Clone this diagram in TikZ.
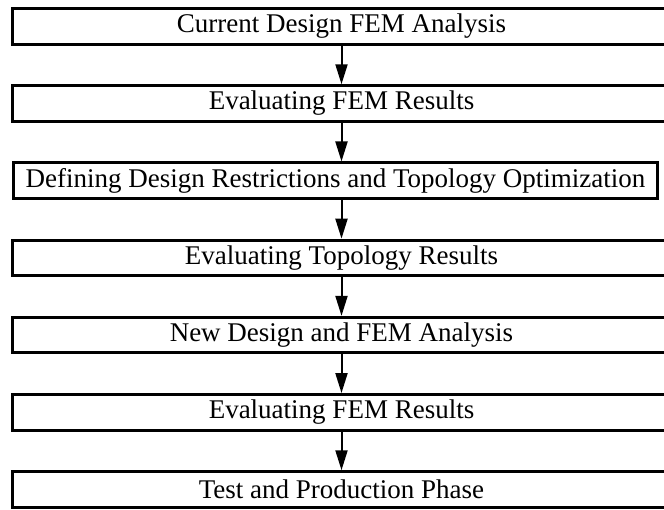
\documentclass[tikz,border=0pt]{standalone}
\usepackage{fontspec}
\setmainfont{Liberation Serif}
\usetikzlibrary{arrows.meta, positioning}
\newcommand{\StepFont}{\fontsize{27pt}{30pt}\selectfont}

\begin{document}
\begin{tikzpicture}[x=1pt, y=-1pt,
  stepbox/.style={draw=black, line width=3pt, fill=white, font=\StepFont,
    minimum height=35.5pt, minimum width=658pt, inner sep=0pt},
  flow/.style={line width=2pt, -{Triangle[length=20pt, width=12pt]}}]
  \clip (0,0) rectangle (664,509);
  % process steps
  \node[stepbox] (cur) at (341.5,26.3) {Current Design FEM Analysis};
  \node[stepbox] (evalfem) at (341.5,103.5) {Evaluating FEM Results};
  \node[stepbox, minimum width=644pt] (topo) at (335.5,180.7)
    {Defining Design Restrictions and Topology Optimization};
  \node[stepbox] (evaltopo) at (341.5,257.9) {Evaluating Topology Results};
  \node[stepbox] (newdes) at (341.5,335.1) {New Design and FEM Analysis};
  \node[stepbox] (evalnew) at (341.5,412.3) {Evaluating FEM Results};
  \node[stepbox] (prod) at (341.5,489.5) {Test and Production Phase};
  % arrows
  \foreach \a/\b in {cur/evalfem, evalfem/topo, topo/evaltopo,
      evaltopo/newdes, newdes/evalnew, evalnew/prod}
    \draw[flow] (\a.south -| cur.south) -- (\b.north -| cur.south);
\end{tikzpicture}
\end{document}
